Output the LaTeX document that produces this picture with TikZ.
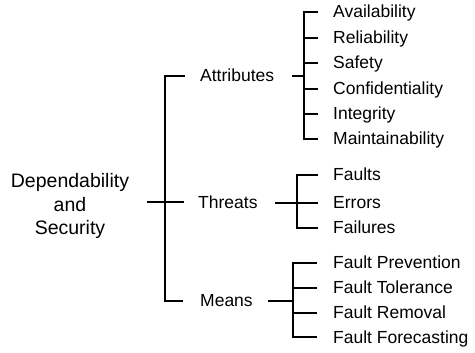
\documentclass[tikz,border=0pt]{standalone}
\usepackage{fontspec}
\setmainfont{Liberation Sans}
\begin{document}
\begin{tikzpicture}[x=1pt,y=-1pt,
  conn/.style={line width=1.4pt, black},
  lbl/.style={anchor=west, inner sep=0pt, font=\fontsize{17.5}{21}\selectfont},
  leaf/.style={anchor=base west, inner sep=0pt, font=\fontsize{17.5}{21}\selectfont}]
\useasboundingbox (0,0) rectangle (475,353);
% root
\node[align=center, inner sep=0pt, font=\fontsize{19.5}{23.5}\selectfont] (root) at (70,206) {Dependability\\and\\Security};
% level 1 labels
\node[leaf] (attr) at (200,82) {Attributes};
\node[leaf] (thr) at (198,208) {Threats};
\node[leaf] (mea) at (200,307) {Means};
% trunk
\coordinate (rs) at (147,202);
\coordinate (re) at (184,202);
\coordinate (ttop) at (165,76);
\coordinate (tbot) at (165,301);
\coordinate (ae) at (185,76);
\coordinate (me) at (183,301);
\draw[conn] (rs) -- (re);
\draw[conn] (ae) -- (ttop) -- (tbot) -- (me);
% attributes group
\coordinate (as) at (292,76);
\coordinate (av) at (304,76);
\draw[conn] (as) -- (av);
\foreach \y/\t/\n in {12/Availability/a1, 38/Reliability/a2, 63/Safety/a3, 89/Confidentiality/a4, 114/Integrity/a5, 139/Maintainability/a6}{
  \node[leaf] (\n) at (333,\y+6) {\t};
  \coordinate (\n v) at (304,\y);
  \coordinate (\n e) at (318,\y);
}
\draw[conn] (a1e) -- (a1v) -- (a6v) -- (a6e);
\foreach \n in {a2,a3,a4,a5}{\draw[conn] (\n v) -- (\n e);}
% threats group
\foreach \y/\t/\n in {175/Faults/t1, 203/Errors/t2, 228/Failures/t3}{
  \node[leaf] (\n) at (333,\y+6) {\t};
  \coordinate (\n v) at (297,\y);
  \coordinate (\n e) at (318,\y);
}
\coordinate (ts) at (275,203);
\draw[conn] (ts) -- (t2e);
\draw[conn] (t1e) -- (t1v) -- (t3v) -- (t3e);
% means group
\foreach \y/\t/\n in {263/Fault Prevention/m1, 288/Fault Tolerance/m2, 313/Fault Removal/m3, 337/Fault Forecasting/m4}{
  \node[leaf] (\n) at (333,\y+6) {\t};
  \coordinate (\n v) at (293,\y);
  \coordinate (\n e) at (317,\y);
}
\coordinate (ms) at (268,301);
\coordinate (mv) at (293,301);
\draw[conn] (ms) -- (mv);
\draw[conn] (m1e) -- (m1v) -- (m4v) -- (m4e);
\foreach \n in {m2,m3}{\draw[conn] (\n v) -- (\n e);}
\end{tikzpicture}
\end{document}
